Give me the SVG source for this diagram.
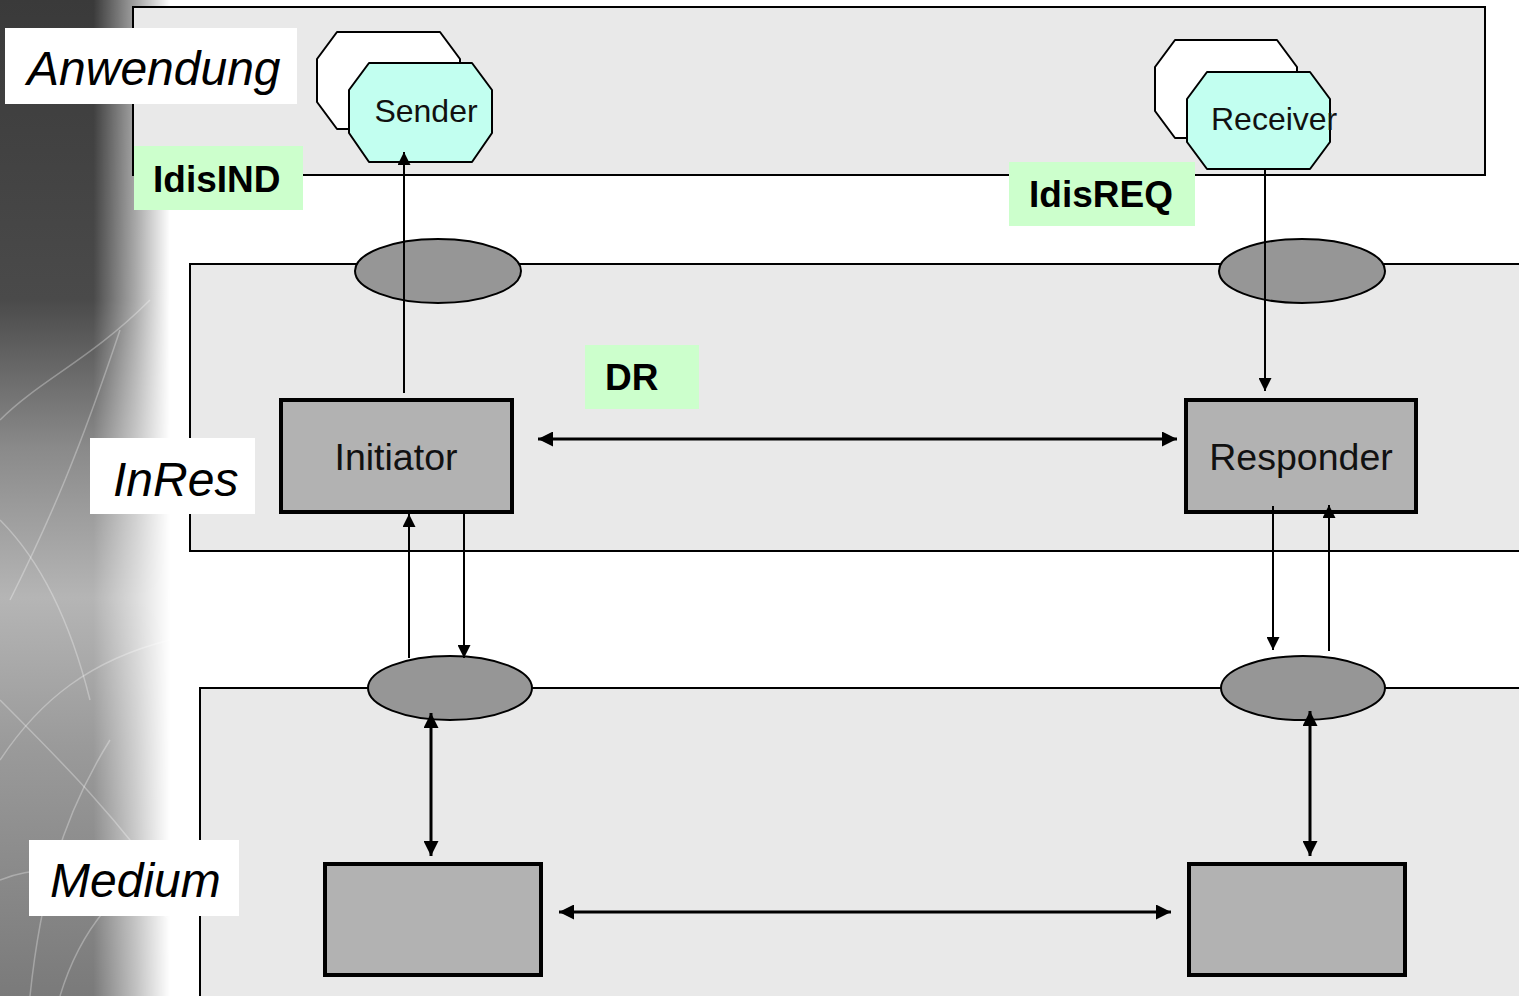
<svg xmlns="http://www.w3.org/2000/svg" width="1519" height="996" viewBox="0 0 1519 996">
<defs>
<style>
.layer{fill:#e9e9e9;stroke:#000;stroke-width:2}
.lbl{fill:#fff}
.lt{font-family:"Liberation Sans",Arial,sans-serif;font-style:italic;font-size:48px;fill:#000}
.gbox{fill:#ccffcc}
.gt{font-family:"Liberation Sans",Arial,sans-serif;font-weight:bold;font-size:37px;fill:#000}
.sap{fill:#969696;stroke:#000;stroke-width:2}
.box{fill:#b2b2b2;stroke:#000;stroke-width:4}
.bt{font-family:"Liberation Sans",Arial,sans-serif;font-size:37.5px;fill:#111}
.oback{fill:#fff;stroke:#000;stroke-width:2;stroke-linejoin:round}
.ofront{fill:#c2fff0;stroke:#000;stroke-width:2;stroke-linejoin:round}
.ot{font-family:"Liberation Sans",Arial,sans-serif;font-size:32px;fill:#111}
.thin{stroke:#000;stroke-width:2;fill:none}
.thick{stroke:#000;stroke-width:3;fill:none}
</style>
<marker id="ah" viewBox="0 0 10 10" refX="10" refY="5" markerWidth="14" markerHeight="13" markerUnits="userSpaceOnUse" orient="auto-start-reverse"><path d="M0,0 L10,5 L0,10 z" fill="#000"/></marker>
<marker id="ahb" viewBox="0 0 10 10" refX="10" refY="5" markerWidth="15" markerHeight="15" markerUnits="userSpaceOnUse" orient="auto-start-reverse"><path d="M0,0 L10,5 L0,10 z" fill="#000"/></marker>
<linearGradient id="vg" x1="0" y1="0" x2="0" y2="1">
<stop offset="0" stop-color="#3a3a3a"/>
<stop offset="0.3" stop-color="#4a4a4a"/>
<stop offset="0.45" stop-color="#8a8a8a"/>
<stop offset="0.6" stop-color="#b5b5b5"/>
<stop offset="0.75" stop-color="#9a9a9a"/>
<stop offset="1" stop-color="#7a7a7a"/>
</linearGradient>
<linearGradient id="hg" x1="0" y1="0" x2="1" y2="0">
<stop offset="0" stop-color="#fff"/>
<stop offset="0.55" stop-color="#fff"/>
<stop offset="0.8" stop-color="#777"/>
<stop offset="1" stop-color="#000"/>
</linearGradient>
<mask id="fade" maskUnits="userSpaceOnUse" x="0" y="0" width="170" height="996">
<rect x="0" y="0" width="170" height="996" fill="url(#hg)"/>
</mask>
</defs>
<rect x="0" y="0" width="1519" height="996" fill="#fff"/>
<g id="backdrop" mask="url(#fade)">
<rect x="0" y="0" width="170" height="996" fill="url(#vg)"/>
<g stroke="#fff" stroke-opacity="0.3" stroke-width="1.5" fill="none">
<path d="M0,420 C40,380 90,360 150,300"/>
<path d="M10,600 C50,520 80,450 120,330"/>
<path d="M0,700 C60,760 120,820 175,900"/>
<path d="M0,760 C40,700 90,660 170,640"/>
<path d="M30,996 C40,900 60,820 110,740"/>
<path d="M0,880 C50,860 110,870 170,920"/>
<path d="M60,996 C80,930 120,880 175,860"/>
<path d="M0,520 C40,560 70,620 90,700"/>
</g>
</g>
<g id="layers">
<rect id="layer-anwendung" class="layer" x="133" y="7" width="1352" height="168"/>
<rect id="layer-inres" class="layer" x="190" y="264" width="1340" height="287"/>
<rect id="layer-medium" class="layer" x="200" y="688" width="1330" height="320"/>
</g>
<g id="label-anwendung"><rect class="lbl" x="5" y="28" width="292" height="76"/><text class="lt" x="27" y="85">Anwendung</text></g>
<g id="label-inres"><rect class="lbl" x="90" y="438" width="165" height="76"/><text class="lt" x="113" y="496">InRes</text></g>
<g id="label-medium"><rect class="lbl" x="29" y="840" width="210" height="76"/><text class="lt" x="50" y="897">Medium</text></g>
<g id="sap-top-left"><ellipse class="sap" cx="438" cy="271" rx="83" ry="32"/></g>
<g id="sap-top-right"><ellipse class="sap" cx="1302" cy="271" rx="83" ry="32"/></g>
<g id="sap-bottom-left"><ellipse class="sap" cx="450" cy="688" rx="82" ry="32"/></g>
<g id="sap-bottom-right"><ellipse class="sap" cx="1303" cy="688" rx="82" ry="32"/></g>
<g id="sender">
<polygon class="oback" points="337,32 440,32 460,59 460,102 440,129 337,129 317,102 317,59"/>
<polygon class="ofront" points="369,63 472,63 492,90 492,133 472,162 369,162 349,133 349,90"/>
<text class="ot" x="426" y="122" text-anchor="middle">Sender</text>
</g>
<g id="receiver">
<polygon class="oback" points="1175,40 1277,40 1297,67 1297,111 1277,138 1175,138 1155,111 1155,67"/>
<polygon class="ofront" points="1207,72 1310,72 1330,99 1330,142 1310,169 1207,169 1187,142 1187,99"/>
<text class="ot" x="1211" y="130">Receiver</text>
</g>
<g id="initiator"><rect class="box" x="281" y="400" width="231" height="112"/><text class="bt" x="396" y="470" text-anchor="middle">Initiator</text></g>
<g id="responder"><rect class="box" x="1186" y="400" width="230" height="112"/><text class="bt" x="1301" y="470" text-anchor="middle">Responder</text></g>
<g id="medium-left"><rect class="box" x="325" y="864" width="216" height="111"/></g>
<g id="medium-right"><rect class="box" x="1189" y="864" width="216" height="111"/></g>
<g id="connectors">
<line class="thin" x1="404" y1="393" x2="404" y2="152" marker-end="url(#ah)"/>
<line class="thin" x1="1265" y1="170" x2="1265" y2="391" marker-end="url(#ah)"/>
<line class="thick" x1="538" y1="439" x2="1177" y2="439" marker-start="url(#ahb)" marker-end="url(#ahb)"/>
<line class="thin" x1="409" y1="658" x2="409" y2="514" marker-end="url(#ah)"/>
<line class="thin" x1="464" y1="513" x2="464" y2="658" marker-end="url(#ah)"/>
<line class="thin" x1="1273" y1="506" x2="1273" y2="650" marker-end="url(#ah)"/>
<line class="thin" x1="1329" y1="651" x2="1329" y2="505" marker-end="url(#ah)"/>
<line class="thick" x1="431" y1="713" x2="431" y2="856" marker-start="url(#ahb)" marker-end="url(#ahb)"/>
<line class="thick" x1="1310" y1="711" x2="1310" y2="856" marker-start="url(#ahb)" marker-end="url(#ahb)"/>
<line class="thick" x1="559" y1="912" x2="1171" y2="912" marker-start="url(#ahb)" marker-end="url(#ahb)"/>
</g>
<g id="label-idisind"><rect class="gbox" x="134" y="146" width="169" height="64"/><text class="gt" x="153" y="192">IdisIND</text></g>
<g id="label-idisreq"><rect class="gbox" x="1009" y="162" width="186" height="64"/><text class="gt" x="1029" y="207">IdisREQ</text></g>
<g id="label-dr"><rect class="gbox" x="585" y="345" width="114" height="64"/><text class="gt" x="605" y="390">DR</text></g>
</svg>
